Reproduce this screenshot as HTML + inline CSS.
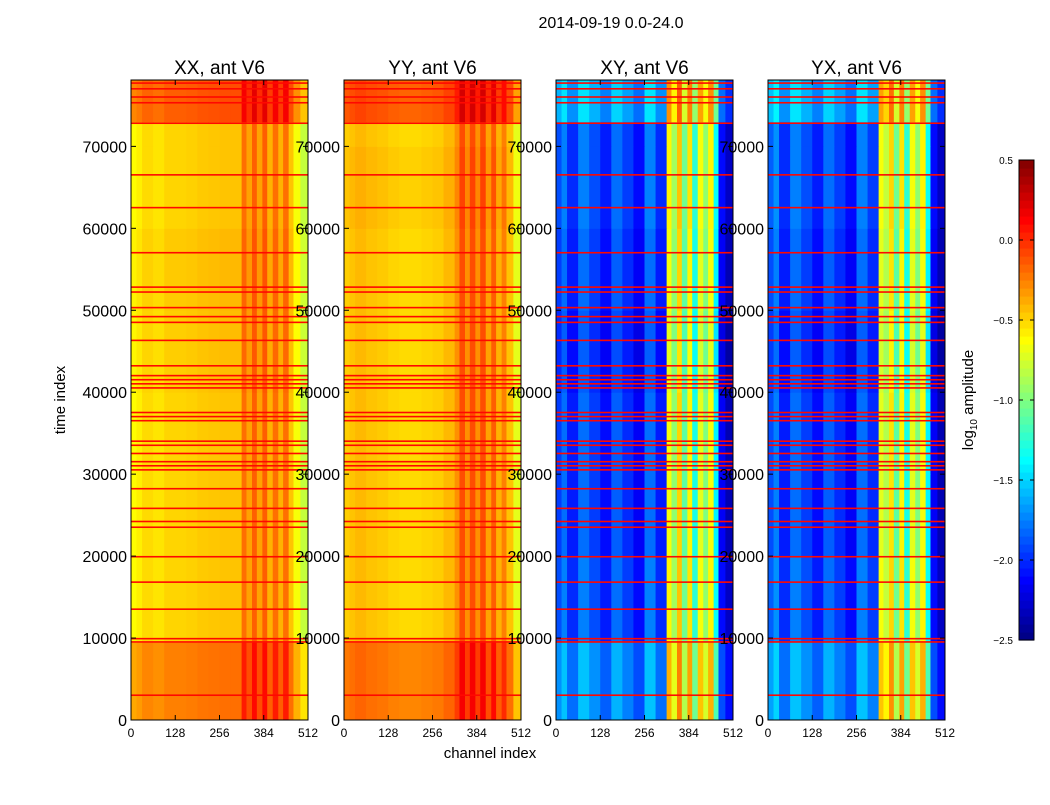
<!DOCTYPE html>
<html><head><meta charset="utf-8"><style>
body{margin:0;background:#fff;font-family:"Liberation Sans",sans-serif}
svg text{font-family:"Liberation Sans",sans-serif}
</style></head><body>
<svg id="fig" width="1050" height="800">
<rect width="1050" height="800" fill="#fff"/>
<text x="611" y="28" font-size="16" text-anchor="middle">2014-09-19 0.0-24.0</text>
<text x="490" y="758" font-size="15" text-anchor="middle">channel index</text>
<text transform="translate(65,400) rotate(-90)" font-size="15" text-anchor="middle">time index</text>
<g id="panels"></g>
<g id="cbar"></g>
</svg>
<script>
// ---- data ----
const panelTitles = ["XX, ant V6","YY, ant V6","XY, ant V6","YX, ant V6"];
const channelBinEdges = [0,16,32,64,96,128,160,192,224,256,288,320,334,350,364,380,394,410,426,440,456,470,490,512];
const xxChannelLevels = [-0.62,-0.58,-0.52,-0.55,-0.5,-0.5,-0.49,-0.47,-0.46,-0.45,-0.45,-0.2,-0.35,-0.15,-0.35,-0.15,-0.4,-0.2,-0.4,-0.2,-0.45,-0.65,-0.8];
const yyChannelLevels = [-0.48,-0.45,-0.42,-0.45,-0.47,-0.5,-0.52,-0.52,-0.5,-0.48,-0.42,-0.3,-0.1,-0.3,-0.1,-0.3,-0.1,-0.35,-0.15,-0.4,-0.25,-0.45,-0.7];
const xyChannelLevels = [-1.9,-1.75,-2.0,-1.75,-1.9,-2.05,-1.8,-1.95,-2.1,-1.75,-2.0,-0.6,-0.9,-0.45,-1.05,-0.55,-1.25,-0.65,-0.95,-0.6,-1.35,-2.1,-2.3];
const yxChannelLevels = [-1.85,-1.7,-2.0,-1.75,-1.9,-2.05,-1.8,-1.95,-2.1,-1.75,-1.95,-0.65,-0.8,-0.5,-1.05,-0.55,-1.25,-0.65,-0.95,-0.6,-1.35,-2.1,-2.3];
const timeBlockEdges = [0,9500,20000,30000,40000,50000,60000,70000,73000,78100];
const xxTimeOffsets = [0.25,0.0,0.0,0.0,0.02,0.03,0.0,0.0,0.35];
const yyTimeOffsets = [0.25,0.0,0.0,0.0,0.0,0.0,0.03,0.0,0.35];
const xyTimeOffsets = [0.2,0.0,-0.05,-0.05,-0.1,-0.05,0.0,0.0,0.3];
const yxTimeOffsets = [0.2,0.0,-0.05,-0.05,-0.1,-0.05,0.0,0.0,0.3];
const flaggedTimes = [3000,9500,9900,13500,16800,19900,23500,24200,25800,28200,30500,31000,31500,32500,33500,34000,36500,37000,37500,40500,41000,41500,42000,43200,46300,48500,49200,50300,52200,52800,57000,62500,66500,72800,75300,76000,77000,77700];
const xTicks = [0,128,256,384,512];
const yTicks = [0,10000,20000,30000,40000,50000,60000,70000];
const cbarTicks = [0.5,0.0,-0.5,-1.0,-1.5,-2.0,-2.5];
// ---- layout ----
const panelLefts=[131,344,556,768], PW=177, PT=80, PB=720;
const NS="http://www.w3.org/2000/svg";
function yScale(t){return PB-(t/78100)*(PB-PT);}
function jet(v){
  let f=(v+2.5)/3; f=Math.max(0,Math.min(1,f));
  const c=x=>Math.max(0,Math.min(1,1.5-Math.abs(4*f-x)));
  return `rgb(${Math.round(255*c(3))},${Math.round(255*c(2))},${Math.round(255*c(1))})`;
}
function el(tag,attrs,parent){const e=document.createElementNS(NS,tag);for(const k in attrs)e.setAttribute(k,attrs[k]);parent.appendChild(e);return e;}
const levels=[xxChannelLevels,yyChannelLevels,xyChannelLevels,yxChannelLevels];
const offs=[xxTimeOffsets,yyTimeOffsets,xyTimeOffsets,yxTimeOffsets];
const pg=document.getElementById('panels');
panelTitles.forEach((title,p)=>{
  const L=panelLefts[p], xs=c=>L+c/512*PW;
  const g=el('g',{},pg);
  
  
  for(let ti=0;ti<timeBlockEdges.length-1;ti++){
    const y0=yScale(timeBlockEdges[ti+1]), y1=yScale(timeBlockEdges[ti]);
    for(let ci=0;ci<channelBinEdges.length-1;ci++){
      const x0=xs(channelBinEdges[ci]),x1=xs(channelBinEdges[ci+1]);
      const r=el('rect',{x:x0,y:y0,width:x1-x0+0.5,height:y1-y0+0.5,fill:jet(levels[p][ci]+offs[p][ti])},g);
      
      
    }
  }
  flaggedTimes.forEach(t=>{
    const r=el('rect',{x:L,y:yScale(t)-1,width:PW,height:1.6,fill:jet(0.1)},g);
    
    
  });
  el('rect',{x:L,y:PT,width:PW,height:PB-PT,fill:'none',stroke:'#000','stroke-width':1},g);
  const tt=el('text',{x:L+PW/2,y:PT-6,'font-size':19,'text-anchor':'middle'},g);tt.textContent=title;
  
  
  xTicks.forEach(v=>{
    el('line',{x1:xs(v),x2:xs(v),y1:PB,y2:PB-5,stroke:'#000'},g);
    el('line',{x1:xs(v),x2:xs(v),y1:PT,y2:PT+5,stroke:'#000'},g);
    const t=el('text',{x:xs(v),y:PB+17,'font-size':12,'text-anchor':'middle'},g);t.textContent=v;
    
    
  });
  yTicks.forEach(v=>{
    el('line',{x1:L,x2:L+5,y1:yScale(v),y2:yScale(v),stroke:'#000'},g);
    el('line',{x1:L+PW,x2:L+PW-5,y1:yScale(v),y2:yScale(v),stroke:'#000'},g);
    const t=el('text',{x:L-4,y:yScale(v)+6,'font-size':16,'text-anchor':'end'},g);t.textContent=v;
    
    
  });
});
// colorbar
const cb=document.getElementById('cbar');
const CX=1019,CW=15,CT=160,CB=640;
const cby=v=>CB-(v+2.5)/3*(CB-CT);
for(let i=0;i<60;i++){
  const v0=-2.5+i*0.05;
  const r=el('rect',{x:CX,y:cby(v0+0.05),width:CW,height:(CB-CT)/60+0.6,fill:jet(v0+0.025)},cb);
  
  
}
el('rect',{x:CX,y:CT,width:CW,height:CB-CT,fill:'none',stroke:'#000'},cb);
cbarTicks.forEach(v=>{
  el('line',{x1:CX,x2:CX+4,y1:cby(v),y2:cby(v),stroke:'#000'},cb);
  el('line',{x1:CX+CW,x2:CX+CW-4,y1:cby(v),y2:cby(v),stroke:'#000'},cb);
  const t=el('text',{x:1013,y:cby(v)+4,'font-size':10,'text-anchor':'end'},cb);
  t.textContent=(v<0?'\u2212':'')+Math.abs(v).toFixed(1);
  
  
});
const lab=el('text',{transform:'translate(973,400) rotate(-90)','font-size':15,'text-anchor':'middle'},cb);
lab.innerHTML='log<tspan font-size="10" dy="4">10</tspan><tspan dy="-4"> amplitude</tspan>';


</script>
</body></html>
